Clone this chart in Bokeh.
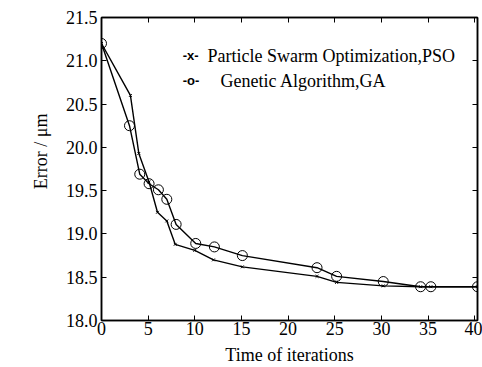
from bokeh.plotting import figure
from bokeh.models import LinearAxis, Range1d, Label, FixedTicker, NumeralTickFormatter, Title
from bokeh.embed import file_html
from bokeh.resources import INLINE

# data
ga_x = [0, 3, 4.1, 5.1, 6.1, 7.0, 8.0, 10.1, 12.1, 15.1, 23.1, 25.2, 30.2, 34.2, 35.3, 40.3]
ga_y = [21.2, 20.25, 19.69, 19.58, 19.51, 19.40, 19.11, 18.89, 18.85, 18.75, 18.61, 18.51, 18.45, 18.39, 18.39, 18.39]
pso_x = [0, 3.1, 4.0, 5.1, 6.0, 7.0, 7.9, 10.0, 12.0, 15.1, 23.1, 25.2, 30.2, 34.2, 35.3, 40.3]
pso_y = [21.2, 20.6, 19.93, 19.60, 19.25, 19.15, 18.88, 18.81, 18.70, 18.62, 18.51, 18.44, 18.40, 18.39, 18.39, 18.39]
x_ticks = [0, 5, 10, 15, 20, 25, 30, 35, 40]
y_ticks = [18.0, 18.5, 19.0, 19.5, 20.0, 20.5, 21.0, 21.5]
legend_pso = "Particle Swarm Optimization,PSO"
legend_ga = "Genetic Algorithm,GA"
y_label = "Error / \u03bcm"
x_label = "Time of iterations"

FONT = "Liberation Serif"

p = figure(width=482, height=367, output_backend="svg", toolbar_location=None,
           x_range=Range1d(0, 40.3), y_range=Range1d(18.0, 21.5),
           min_border_left=101, min_border_right=5, min_border_top=17, min_border_bottom=46)
p.grid.visible = False
p.outline_line_color = "black"
p.outline_line_width = 1.5
p.background_fill_color = "white"
p.border_fill_color = "white"

for ax in [p.xaxis[0], p.yaxis[0]]:
    ax.axis_line_width = 1.5
    ax.major_tick_in = 5
    ax.major_tick_out = 0
    ax.minor_tick_line_color = None
    ax.major_label_text_font = FONT
    ax.major_label_text_font_size = "18px"
    ax.major_label_text_color = "black"
    ax.axis_label_text_font = FONT
    ax.axis_label_text_font_size = "18px"
    ax.axis_label_text_font_style = "normal"
    ax.axis_label_text_color = "black"

p.xaxis.ticker = FixedTicker(ticks=x_ticks)
p.yaxis.ticker = FixedTicker(ticks=y_ticks)
p.yaxis.formatter = NumeralTickFormatter(format="0.0")
p.xaxis.axis_label = x_label
p.xaxis.major_label_standoff = 1
p.xaxis.axis_label_standoff = 7
p.yaxis.major_label_standoff = 4

# mirrored ticks
top = LinearAxis(ticker=FixedTicker(ticks=x_ticks), major_label_overrides={t: "" for t in x_ticks},
                 major_tick_in=5, major_tick_out=0, minor_tick_line_color=None, axis_line_width=1.5)
right = LinearAxis(ticker=FixedTicker(ticks=y_ticks), major_label_overrides={t: "" for t in y_ticks},
                   major_tick_in=5, major_tick_out=0, minor_tick_line_color=None, axis_line_width=1.5)
p.add_layout(top, "above")
p.add_layout(right, "right")

# y-axis label as a left-side title
p.add_layout(Title(text=y_label, align="right", offset=96, text_font=FONT, text_font_size="18px",
                   text_font_style="normal", text_color="black", standoff=23), "left")

p.line(pso_x, pso_y, line_color="black", line_width=1.4)
p.scatter(pso_x, pso_y, marker="x", size=4, line_color="black", line_width=1)
p.line(ga_x, ga_y, line_color="black", line_width=1.4)
p.scatter(ga_x, ga_y, marker="circle", size=10, fill_color=None, line_color="black", line_width=1)

# legend
p.add_layout(Label(x=8.7, y=21.06, text="-x-", text_font="Liberation Sans", text_font_style="bold",
                   text_font_size="13px", text_baseline="middle", text_color="black"))
p.add_layout(Label(x=11.36, y=21.06, text=legend_pso, text_font=FONT, text_font_size="18px",
                   text_baseline="middle", text_color="black"))
p.add_layout(Label(x=8.7, y=20.77, text="-o-", text_font="Liberation Sans", text_font_style="bold",
                   text_font_size="13px", text_baseline="middle", text_color="black"))
p.add_layout(Label(x=12.75, y=20.77, text=legend_ga, text_font=FONT, text_font_size="18px",
                   text_baseline="middle", text_color="black"))

open("out.html", "w").write(file_html(p, INLINE))
